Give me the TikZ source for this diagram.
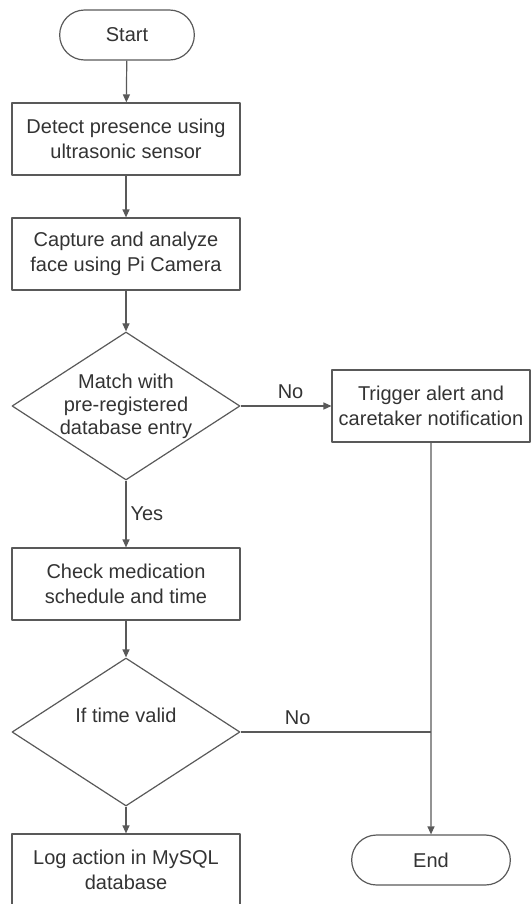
\documentclass[tikz,border=0pt]{standalone}
\usepackage{fontspec}
\setmainfont{Liberation Sans}
\usetikzlibrary{shapes.geometric,shapes.misc,arrows.meta}
\tikzset{
  line/.style={draw=black!65, line width=0.6pt},
  term/.style={line, rounded rectangle, minimum width=74pt, minimum height=25pt},
  proc/.style={line, rectangle, minimum width=114pt, minimum height=36pt, align=center},
  decision/.style={line, diamond, minimum width=114pt, minimum height=74pt, inner sep=0pt},
  flow/.style={line, -{Triangle[length=4pt,width=3.5pt]}},
}
\begin{document}
\begin{tikzpicture}[x=0.5pt, y=-0.5pt, line join=round,
    font=\fontsize{10}{12.5}\selectfont, text=black!80]
  \useasboundingbox (0,0) rectangle (531,904);
  % main column
  \node[term] (start) at (127,35) {Start};
  \node[proc] (detect) at (126,139) {Detect presence using\\ultrasonic sensor};
  \node[proc] (capture) at (126,254) {Capture and analyze\\face using Pi Camera};
  \node[decision, label={[align=center, font=\fontsize{10}{11.5}\selectfont]center:Match with\\pre-registered\\database entry}] (match) at (126,406) {};
  \node[proc] (check) at (126,584) {Check medication\\schedule and time};
  \node[decision, label={[yshift=8.5pt]center:If time valid}] (valid) at (126,732) {};
  \node[proc] (log) at (126,870) {Log action in MySQL\\database};
  % right column
  \node[proc, minimum width=98pt] (alert) at (431,406) {Trigger alert and\\caretaker notification};
  \node[term, minimum width=86pt] (end) at (431,860) {End};
  \coordinate (join) at (alert.south |- valid.east);

  \draw[flow] (start) -- (detect);
  \draw[flow] (detect) -- (capture);
  \draw[flow] (capture) -- (match);
  \draw[flow] (match.east) -- node[above, pos=0.55] {No} (alert.west);
  \draw[flow] (match) -- node[right, inner sep=2pt] {Yes} (check);
  \draw[flow] (check) -- (valid);
  \draw[flow] (valid) -- (log);
  \draw[flow] (alert) -- (end);
  \draw[line] (valid.east) -- node[above, pos=0.3] {No} (join);
\end{tikzpicture}
\end{document}
